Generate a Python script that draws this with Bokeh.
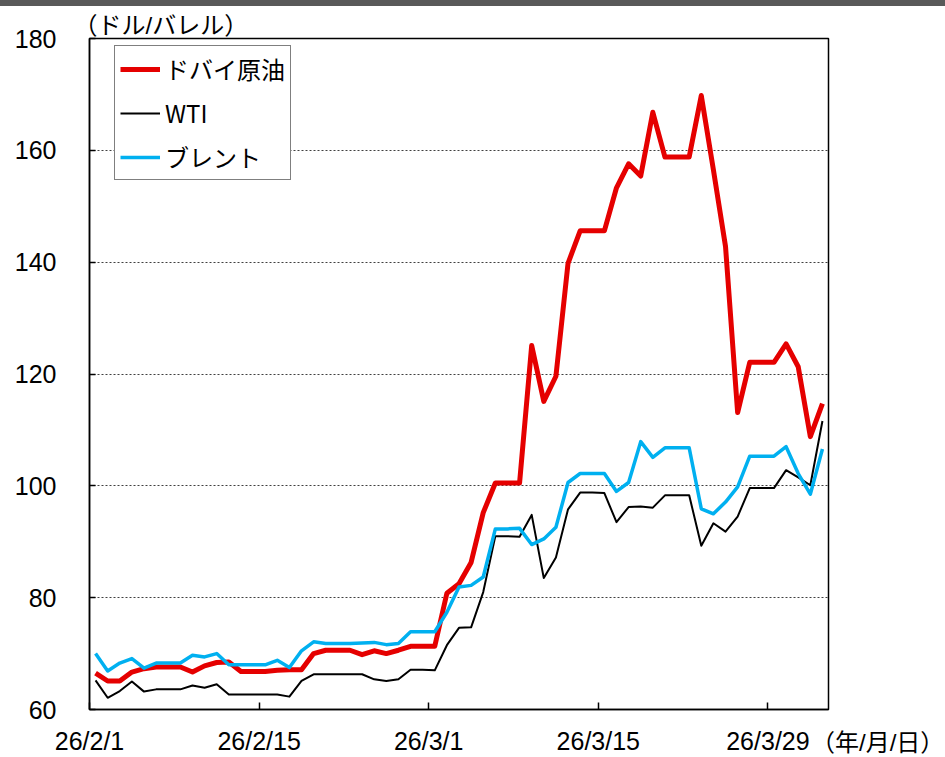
import pandas as pd
from bokeh.plotting import figure
from bokeh.models import (Range1d, FixedTicker, Legend, LegendItem, Div,
                          ColumnDataSource)
from bokeh.layouts import column, row
from bokeh.embed import file_html
from bokeh.resources import INLINE

# ---------------- data ----------------
start_date = "2026-02-01"
end_date = "2026-04-02"

dubai = [66.5, 65.1, 65.1, 66.7, 67.3, 67.6, 67.6, 67.6, 66.7, 67.8,
         68.4, 68.5, 66.8, 66.8, 66.8, 67.0, 67.1, 67.1, 70.0, 70.6,
         70.6, 70.6, 69.8, 70.5, 70.0, 70.6, 71.3, 71.3, 71.3, 80.8,
         82.5, 86.3, 95.2, 100.5, 100.5, 100.5, 125.1, 115.1, 119.6, 139.8,
         145.6, 145.6, 145.6, 153.3, 157.6, 155.4, 166.8, 158.8, 158.8, 158.8,
         169.8, 156.5, 142.8, 113.1, 122.1, 122.1, 122.1, 125.4, 121.3, 108.8,
         114.7]

wti = [65.2, 62.1, 63.3, 65.0, 63.2, 63.6, 63.6, 63.6, 64.3, 63.9,
       64.5, 62.7, 62.7, 62.7, 62.7, 62.7, 62.3, 65.1, 66.3, 66.3,
       66.3, 66.3, 66.3, 65.4, 65.1, 65.4, 67.1, 67.1, 67.0, 71.5,
       74.6, 74.7, 81.0, 91.0, 91.0, 90.9, 94.8, 83.5, 87.2, 95.8,
       98.8, 98.8, 98.7, 93.5, 96.2, 96.3, 96.1, 98.3, 98.3, 98.3,
       89.3, 93.3, 91.8, 94.5, 99.6, 99.6, 99.6, 102.8, 101.5, 100.1,
       111.6]

brent = [70.0, 66.9, 68.3, 69.1, 67.4, 68.3, 68.3, 68.3, 69.7, 69.4,
         70.0, 68.0, 68.0, 68.0, 68.0, 68.8, 67.5, 70.5, 72.1, 71.8,
         71.8, 71.8, 71.9, 72.0, 71.6, 71.8, 73.9, 73.9, 73.9, 77.4,
         81.9, 82.2, 83.7, 92.3, 92.3, 92.4, 89.5, 90.5, 92.6, 100.6,
         102.2, 102.2, 102.2, 99.0, 100.6, 107.9, 105.1, 106.8, 106.8, 106.8,
         95.9, 95.0, 97.1, 99.8, 105.3, 105.3, 105.3, 107.0, 102.2, 98.5,
         106.6]

tick_dates = ["2026-02-01", "2026-02-15", "2026-03-01", "2026-03-15", "2026-03-29"]
tick_labels = ["26/2/1", "26/2/15", "26/3/1", "26/3/15", "26/3/29"]
y_ticks = [60, 80, 100, 120, 140, 160, 180]

series_names = ["ドバイ原油", "WTI", "ブレント"]
series_colors = ["#E50000", "#000000", "#00B0F0"]
series_widths = [5, 2, 3.5]

unit_text = "（ドル/バレル）"
date_unit_text = "（年/月/日）"

# ---------------- derived ----------------
dates = pd.date_range(start_date, end_date, freq="D")
t0 = pd.Timestamp(start_date)
xpos = [(d - t0).days + 0.5 for d in dates]     # points sit in the middle of each day
tick_pos = [(pd.Timestamp(d) - t0).days for d in tick_dates]
n_days = len(dates)

src = ColumnDataSource(dict(x=xpos, dubai=dubai, wti=wti, brent=brent))

JP = "Noto Sans CJK JP"
LAT = "Liberation Sans"
MIX = "Liberation Sans, Noto Sans CJK JP"

FIG_W = 840
p = figure(width=FIG_W, height=751,
           x_range=Range1d(0, n_days), y_range=Range1d(60, 180),
           output_backend="svg", toolbar_location=None,
           min_border_left=89, min_border_right=FIG_W - 828,
           min_border_top=32, min_border_bottom=46, margin=0)

p.background_fill_color = "white"
p.border_fill_color = "white"
p.outline_line_color = "black"
p.outline_line_width = 1.5

# title = unit label
p.title.text = unit_text
p.title.text_font = MIX
p.title.text_font_size = "24px"
p.title.text_font_style = "normal"
p.title.align = "left"
p.title.offset = -16
p.title.standoff = 0
p.title.text_color = "black"

r_d = p.line("x", "dubai", source=src, line_color=series_colors[0],
             line_width=series_widths[0], line_join="round")
r_w = p.line("x", "wti", source=src, line_color=series_colors[1],
             line_width=series_widths[1], line_join="round")
r_b = p.line("x", "brent", source=src, line_color=series_colors[2],
             line_width=series_widths[2], line_join="round")

# axes
xa = p.xaxis[0]
xa.ticker = FixedTicker(ticks=tick_pos)
xa.major_label_overrides = {t: lab for t, lab in zip(tick_pos, tick_labels)}
xa.major_tick_in = 7
xa.major_tick_out = 0
xa.minor_tick_in = 0
xa.minor_tick_out = 0
xa.axis_line_width = 1.5
xa.major_tick_line_width = 1.5
xa.major_label_standoff = 17
xa.major_label_text_font = LAT
xa.major_label_text_font_size = "25px"
xa.major_label_text_color = "black"

ya = p.yaxis[0]
ya.ticker = FixedTicker(ticks=y_ticks)
ya.major_tick_in = 6
ya.major_tick_out = 0
ya.minor_tick_in = 0
ya.minor_tick_out = 0
ya.axis_line_width = 1.5
ya.major_tick_line_width = 1.5
ya.major_label_standoff = 33
ya.major_label_text_font = LAT
ya.major_label_text_font_size = "25px"
ya.major_label_text_color = "black"

p.xgrid.visible = False
p.ygrid.ticker = FixedTicker(ticks=y_ticks[1:-1])
p.ygrid.grid_line_color = "#404040"
p.ygrid.grid_line_dash = "2 2"
p.ygrid.grid_line_width = 1

# legend
legend = Legend(items=[LegendItem(label=series_names[0], renderers=[r_d]),
                       LegendItem(label=series_names[1], renderers=[r_w]),
                       LegendItem(label=series_names[2], renderers=[r_b])],
                location=(25, 529))
legend.label_text_font = JP
legend.label_text_font_size = "24px"
legend.label_text_color = "black"
legend.glyph_width = 40
legend.glyph_height = 24
legend.label_height = 24
legend.spacing = 9
legend.padding = 5
legend.margin = 0
legend.label_standoff = 5
legend.border_line_color = "black"
legend.border_line_width = 1.2
legend.background_fill_alpha = 1
p.add_layout(legend)

# date unit text, right of the last x tick label
suffix = Div(text=date_unit_text, width=134, height=28,
             margin=(723, 0, 0, -29),
             styles={"font-family": "'Liberation Sans', 'Noto Sans CJK JP'",
                     "font-size": "24px", "line-height": "28px",
                     "color": "black", "white-space": "nowrap",
                     "overflow": "visible"})

topbar = Div(text="", width=945, height=6, margin=0,
             styles={"background-color": "#595959"})

layout = column(topbar, row(p, suffix, margin=0, spacing=0), margin=0, spacing=0)

open("out.html", "w").write(file_html(layout, INLINE))
